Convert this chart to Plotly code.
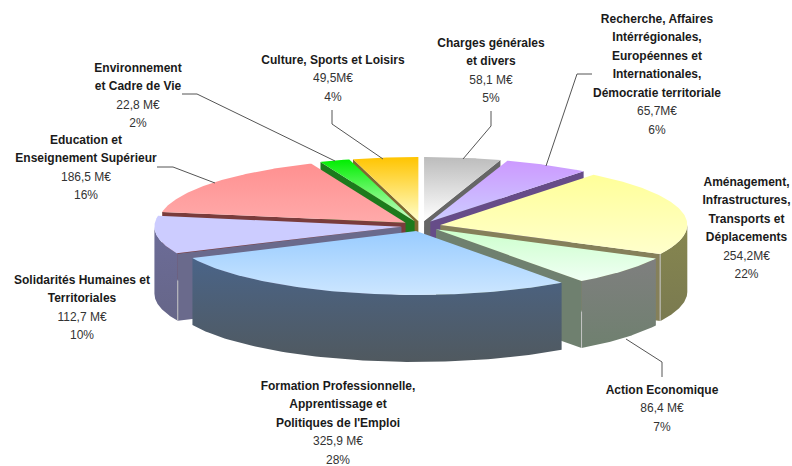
import numpy as np
import plotly.graph_objects as go

# ---- data, clockwise from twelve o'clock ----
names = ["Charges", "Recherche", "Amenagement", "Action", "Formation",
         "Solidarites", "Education", "Environnement", "Culture"]
values = [58.1, 65.7, 254.2, 86.4, 325.9, 112.7, 186.5, 22.8, 49.5]

value_labels = ["58,1 M€", "65,7M€", "254,2M€", "86,4 M€", "325,9 M€",
                "112,7 M€", "186,5 M€", "22,8 M€", "49,5M€"]
percent_labels = ["5%", "6%", "22%", "7%", "28%", "10%", "16%", "2%", "4%"]
title_lines = [
    ["Charges générales", "et divers"],
    ["Recherche, Affaires", "Intérrégionales,", "Européennes et", "Internationales,", "Démocratie territoriale"],
    ["Aménagement,", "Infrastructures,", "Transports et", "Déplacements"],
    ["Action Economique"],
    ["Formation Professionnelle,", "Apprentissage et", "Politiques de l'Emploi"],
    ["Solidarités Humaines et", "Territoriales"],
    ["Education et", "Enseignement Supérieur"],
    ["Environnement", "et Cadre de Vie"],
    ["Culture, Sports et Loisirs"],
]

# ---- styles and layout ----
top_colors = [("#bcbcbc", "#ffffff"), ("#cc99ff", "#ccccff"), ("#ffff99", "#ffffcc"),
              ("#ccffcc", "#f0fff4"), ("#99ccff", "#cce6ff"), ("#ccccff", "#ccccff"),
              ("#ff9090", "#ffaaaa"), ("#00ee00", "#ccffcc"), ("#ffc400", "#ffffcc")]
side_colors = ["#666666", "#664c88", "#85805a", "#6f806f", "#4a6080",
               "#6a6a8c", "#7a3c3c", "#1c7a1c", "#806a30"]
wall_colors = [("#777777", "#666666"), ("#664c88", "#5c4a70"), ("#86864f", "#7a7a50"),
               ("#7f7f7f", "#6f806f"), ("#4a6488", "#50595f"), ("#6c6c98", "#666688"),
               ("#7a3c3c", "#6a3c3c"), ("#1c7a1c", "#1c6a1c"), ("#806a30", "#705f30")]
paint_order = [0, 8, 1, 7, 6, 2, 5, 3, 4]
label_center_x = [491, 657, 746.5, 662, 338, 82, 86, 138, 333]
label_first_y = [43.5, 19.5, 182.5, 390.5, 386.5, 280.5, 140.5, 68.5, 60.5]
line_step = 18.5
leaders = [
    [(491, 111), (491, 126), (463, 159)],
    [(592, 74), (577, 74), (546, 166)],
    [(626, 339), (662, 362), (662, 377)],
    [(157, 167), (173, 167), (215, 183)],
    [(182, 94), (197, 94), (335, 161)],
    [(332, 110), (332, 124), (383, 159)],
]
CX, CY, RX, RY, DEPTH, EXPLODE = 421, 226, 247, 64, 67, 0.08
# slice index -> fraction of the wall height where the pale edge highlight begins
highlight_from = {2: 0.0, 3: 0.46, 5: 0.4}

# ---- geometry derived from the values ----
shares = np.array(values) / sum(values)
edges = np.concatenate([[0], np.cumsum(shares)]) * 2 * np.pi


def rim(i, t):
    mid = (edges[i] + edges[i + 1]) / 2
    ax = CX + EXPLODE * RX * np.sin(mid)
    ay = CY - EXPLODE * RY * np.cos(mid)
    return ax + RX * np.sin(t), ay - RY * np.cos(t), ax, ay


def poly(xs, ys, colors):
    # the y axis runs downward, so the gradient's end stop is the visual top
    return go.Scatter(
        x=list(xs), y=list(ys), mode="lines", fill="toself",
        line=dict(width=0), hoverinfo="skip", showlegend=False,
        fillcolor=colors[0],
        fillgradient=dict(type="vertical", colorscale=[[0, colors[1]], [1, colors[0]]]),
    )


fig = go.Figure()
for i in paint_order:
    a, b = edges[i], edges[i + 1]
    # radial side wall
    wall_t = b if b <= np.pi else (a if a >= np.pi else None)
    if wall_t is not None:
        px, py, ax, ay = rim(i, wall_t)
        fig.add_trace(poly([ax, px, px, ax, ax], [ay, py, py + DEPTH, ay + DEPTH, ay],
                           (side_colors[i], side_colors[i])))
    # outer curved wall
    lo, hi = max(a, np.pi / 2), min(b, 3 * np.pi / 2)
    if hi > lo:
        t = np.linspace(lo, hi, 80)
        px, py, _, _ = rim(i, t)
        fig.add_trace(poly(np.r_[px, px[::-1]], np.r_[py, (py + DEPTH)[::-1]], wall_colors[i]))
    # pale vertical highlight on the wall's corner
    if i in highlight_from and wall_t is not None:
        px, py, _, _ = rim(i, wall_t)
        fig.add_trace(go.Scatter(x=[px, px], y=[py + DEPTH * highlight_from[i], py + DEPTH],
                                 mode="lines", line=dict(color="#c4c4c4", width=1),
                                 hoverinfo="skip", showlegend=False))
    # top face
    t = np.linspace(a, b, 120)
    px, py, ax, ay = rim(i, t)
    fig.add_trace(poly(np.r_[ax, px, ax], np.r_[ay, py, ay], top_colors[i]))

# leader lines
for pts in leaders:
    fig.add_trace(go.Scatter(x=[p[0] for p in pts], y=[p[1] for p in pts], mode="lines",
                             line=dict(color="#555555", width=1), hoverinfo="skip", showlegend=False))

# labels, one text per line
tx, ty, tt, vx, vy, vt = [], [], [], [], [], []
for i in range(len(values)):
    y = label_first_y[i]
    for line in title_lines[i]:
        tx.append(label_center_x[i]); ty.append(y); tt.append(line)
        y += line_step
    for line in (value_labels[i], percent_labels[i]):
        vx.append(label_center_x[i]); vy.append(y); vt.append(line)
        y += line_step
fig.add_trace(go.Scatter(x=tx, y=ty, text=tt, mode="text", textposition="middle center",
                         textfont=dict(family="Liberation Sans", size=12, color="#1a1a1a", weight="bold"),
                         hoverinfo="skip", showlegend=False))
fig.add_trace(go.Scatter(x=vx, y=vy, text=vt, mode="text", textposition="middle center",
                         textfont=dict(family="Liberation Sans", size=12, color="#333333"),
                         hoverinfo="skip", showlegend=False))

fig.update_layout(
    width=792, height=466, margin=dict(l=0, r=0, t=0, b=0),
    paper_bgcolor="white", plot_bgcolor="white", showlegend=False,
    xaxis=dict(range=[0, 792], visible=False, fixedrange=True),
    yaxis=dict(range=[466, 0], visible=False, fixedrange=True),
)
fig.write_html("out.html", config={"displayModeBar": False},
               post_script="document.body.style.margin='0';")
